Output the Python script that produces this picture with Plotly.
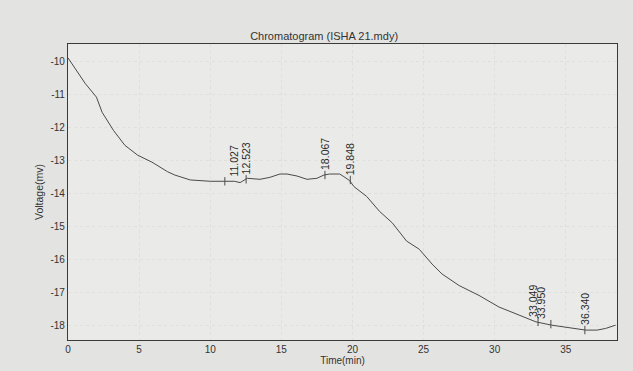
import plotly.graph_objects as go

# Chromatogram trace
time_min = [0.0, 0.6, 1.2, 2.0, 2.4, 3.2, 4.0, 4.9, 5.9, 7.0, 7.5, 8.6, 10.0, 11.0, 11.7, 12.1, 12.6,
            13.5, 14.2, 14.9, 15.4, 16.1, 16.8, 17.5, 18.0, 18.4, 19.1, 19.4, 19.8, 20.1, 21.0,
            21.9, 22.8, 23.8, 24.7, 25.6, 26.3, 27.5, 28.9, 30.3, 31.7, 32.9, 34.0, 35.4, 36.4,
            37.2, 37.8, 38.5]
voltage_mv = [-9.9, -10.3, -10.67, -11.09, -11.55, -12.1, -12.55, -12.85, -13.06, -13.35, -13.45,
              -13.6, -13.64, -13.64, -13.64, -13.68, -13.55, -13.58, -13.52, -13.42, -13.42, -13.48,
              -13.58, -13.55, -13.45, -13.42, -13.42, -13.5, -13.62, -13.8, -14.1, -14.55, -14.9,
              -15.45, -15.7, -16.15, -16.45, -16.8, -17.1, -17.45, -17.7, -17.9, -18.0, -18.1,
              -18.15, -18.15, -18.1, -18.0]

peak_times = [11.027, 12.523, 18.067, 19.848, 33.049, 33.950, 36.340]
peak_labels = ["11.027", "12.523", "18.067", "19.848", "33.049", "33.950", "36.340"]
peak_values = [-13.64, -13.58, -13.45, -13.6, -17.9, -17.97, -18.15]

x_ticks = [0, 5, 10, 15, 20, 25, 30, 35]
y_ticks = [-10, -11, -12, -13, -14, -15, -16, -17, -18]
y_tick_text = ["-10", "-11", "-12", "-13", "-14", "-15", "-16", "-17", "-18"]

fig = go.Figure()
fig.add_trace(go.Scatter(x=time_min, y=voltage_mv, mode="lines",
                         line=dict(color="#4a4a4a", width=1), hoverinfo="skip"))
fig.add_trace(go.Scatter(x=peak_times, y=peak_values, mode="markers",
                         marker=dict(symbol="line-ns", size=6, line=dict(color="#4a4a4a", width=1)),
                         hoverinfo="skip"))

label_shift = [9, 0, 0, 0, -5, -10, 0]
for t, v, txt, sh in zip(peak_times, peak_values, peak_labels, label_shift):
    fig.add_annotation(x=t, y=v, text=txt, showarrow=False, textangle=-90,
                       xanchor="center", yanchor="bottom", yshift=3, xshift=sh,
                       font=dict(family="Liberation Sans, Arial", size=10.5, color="#2a2a2a"))

fig.update_layout(
    width=633, height=371,
    margin=dict(l=68, r=16, t=44, b=31, autoexpand=False),
    paper_bgcolor="#e3e3e1", plot_bgcolor="#eaeae8",
    showlegend=False,
    title=dict(text="Chromatogram (ISHA 21.mdy)", x=0.512, xanchor="center",
               y=1 - 40 / 371, yanchor="bottom",
               font=dict(family="Liberation Sans, Arial", size=11, color="#333")),
    font=dict(family="Liberation Sans, Arial", size=10, color="#333"),
)
fig.update_xaxes(range=[0, 38.6], tickvals=x_ticks, showline=True, mirror=True, automargin=False,
                 linecolor="#3a3a3a", linewidth=1.3, ticks="", showgrid=True,
                 gridcolor="#dfdfdd", griddash="dot", zeroline=False,
                 title=dict(text="Time(min)", standoff=2, font=dict(size=10)))
fig.update_yaxes(range=[-18.45, -9.48], tickvals=y_ticks, ticktext=y_tick_text, showline=True,
                 mirror=True, automargin=False, linecolor="#3a3a3a", linewidth=1.3, ticks="",
                 showgrid=True, gridcolor="#dfdfdd", griddash="dot", zeroline=False,
                 title=dict(text="Voltage(mv)", standoff=4, font=dict(size=10.5)))

fig.write_html("out.html", config={"displayModeBar": False},
               post_script="document.body.style.margin='0';document.body.style.background='#e3e3e1';")
